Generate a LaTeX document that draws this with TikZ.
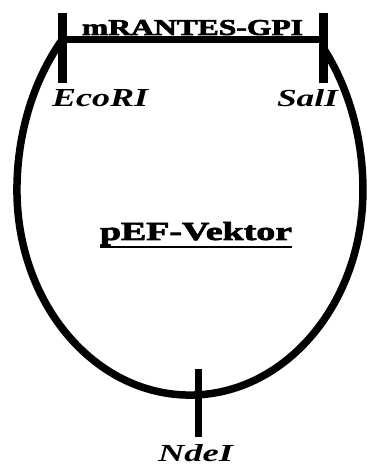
\documentclass[tikz,border=0pt]{standalone}
\usepackage{fontspec}
\usepackage{graphicx}
\setmainfont{Liberation Serif}[BoldFeatures={FakeBold=2.5}]
\begin{document}
\begin{tikzpicture}[x=1bp,y=1bp,
  lbl/.style={inner sep=0pt, outer sep=0pt, anchor=base west},
  ring/.style={line width=7.5bp},
  tick/.style={line width=9bp},
  bar/.style={line width=7bp}]
\useasboundingbox (0,0) rectangle (366,467);
\fill[white] (0,0) rectangle (366,467);
% plasmid outline
\coordinate (lt) at (62,427);
\draw[ring] (lt) arc[start angle=137.7, end angle=180, x radius=173, y radius=223]
  arc[start angle=180, end angle=360, x radius=173, y radius=205]
  arc[start angle=0, end angle=39.7, x radius=173, y radius=223] coordinate (rt);
% insert bar and sites
\coordinate (ecoT) at (62,454);
\coordinate (ecoB) at (62,384);
\coordinate (salT) at (323,454);
\coordinate (salB) at (323,384);
\coordinate (ecoM) at (62,427);
\coordinate (salM) at (323,427);
\draw[bar] (ecoM) -- (salM);
\draw[tick] (ecoT) -- (ecoB);
\draw[tick] (salT) -- (salB);
\coordinate (ndeT) at (198,98);
\coordinate (ndeB) at (198,30);
\draw[line width=7bp] (ndeT) -- (ndeB);
% labels
\node[lbl] (ins) at (82,432) {\resizebox{221bp}{15bp}{\bfseries mRANTES-GPI}};
\node[lbl] (eco) at (52,360) {\resizebox{96bp}{17bp}{\bfseries\itshape EcoRI}};
\node[lbl] (sal) at (277,360) {\resizebox{61bp}{17bp}{\bfseries\itshape SalI}};
\node[lbl] (nde) at (158,6) {\resizebox{75bp}{17bp}{\bfseries\itshape NdeI}};
\node[lbl] (pef) at (100,227) {\resizebox{192bp}{18bp}{\bfseries pEF-Vektor}};
\draw[line width=2bp] ([yshift=-7bp]pef.base west) -- ([yshift=-7bp]pef.base east);
\end{tikzpicture}
\end{document}
